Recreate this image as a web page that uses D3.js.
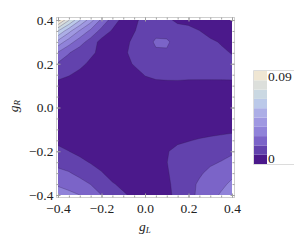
<!DOCTYPE html>
<meta charset="utf-8">
<title>Contour plot over gL, gR</title>
<style>
  body { margin: 0; background: #fff; }
  svg { display: block; font-family: "Liberation Serif", "DejaVu Serif", serif; }
  .frame { fill: none; stroke: #cfcfcf; stroke-width: 1; }
  .tick line { stroke: #a0a0a0; }
  .iso { fill: none; stroke: rgba(45, 25, 70, 0.45); stroke-width: 0.6; }
</style>
<body>
<script src="https://cdnjs.cloudflare.com/ajax/libs/d3/7.8.5/d3.min.js"></script>
<script>
// grid columns (gL) and rows (gR, top row first)
const gL = [-0.4, -0.35, -0.3, -0.25, -0.2, -0.15, -0.1, -0.05, 0, 0.05, 0.1, 0.15, 0.2, 0.25, 0.3, 0.35, 0.4];
const gR = [0.4, 0.35, 0.3, 0.25, 0.2, 0.15, 0.1, 0.05, 0, -0.05, -0.1, -0.15, -0.2, -0.25, -0.3, -0.35, -0.4];

// field values in units of 1e-3
const zMilli = [
  [94, 73, 55, 40, 25, 14, 6, 7, 12, 13, 11, 7, 5.5, 4, 4, 4, 4],
  [63, 48, 35, 25, 15, 8, 5, 8.5, 13, 16, 14, 13, 12.5, 9.2, 6, 4.5, 4],
  [42, 31, 22, 14, 6, 4, 6, 11, 15, 19, 19.5, 14, 12, 11, 10.5, 8.3, 6.5],
  [26, 18.5, 13, 10.5, 7, 4, 7, 12, 14.5, 17, 16.8, 14, 13, 12, 11.5, 10.5, 8.6],
  [17, 14, 11, 7.5, 4.5, 3.5, 5, 10, 12.5, 14, 14, 13.5, 13, 12.5, 12, 12, 11.5],
  [11.5, 9.5, 7, 5, 4, 3.5, 3.5, 5, 9.5, 11, 11.5, 11.5, 11, 11, 11, 11, 11],
  [6.3, 5.5, 5, 4.5, 4, 3.5, 3.5, 4, 5.5, 6.5, 6.6, 6.7, 6.7, 6.6, 6.6, 6.7, 6.8],
  [4.5, 4.3, 4.1, 4, 3.8, 3.6, 3.5, 3.6, 4, 4.5, 4.8, 5, 5, 5, 5, 5, 5],
  [4, 3.8, 3.6, 3.4, 3.2, 3, 3, 3, 3.2, 3.5, 3.8, 4, 4, 4, 4, 4, 4],
  [4.5, 4, 3.7, 3.4, 3.2, 3, 2.8, 2.8, 3, 3.3, 3.6, 4, 4.3, 4.6, 5, 5.3, 5.6],
  [5, 4.6, 4.2, 3.8, 3.4, 3, 2.8, 2.8, 3, 3.5, 5, 6, 6.5, 6.5, 7, 7.5, 7.4],
  [7, 6.5, 5.5, 4.5, 3.8, 3.3, 3, 3, 3.2, 3.8, 7, 8, 8.7, 9.5, 10.1, 10.5, 11.9],
  [11.2, 9.05, 6.75, 5, 4.2, 3.6, 3.2, 3.2, 3.5, 4.2, 8.6, 10.5, 11.5, 12.5, 13.5, 14.5, 16.5],
  [15.5, 13.8, 11.25, 8.4, 5.5, 4.2, 3.6, 3.5, 3.8, 4.5, 8.9, 11, 13, 14.5, 16.5, 18.4, 20.8],
  [20.3, 18.7, 15.75, 13.1, 9.7, 5.5, 4.2, 3.9, 4, 4.6, 8.4, 11.3, 14, 16.8, 20.25, 22, 25],
  [25.9, 24.2, 21, 17.8, 13.9, 9.8, 6.8, 5, 4.3, 4.8, 7.65, 11.4, 15, 19.3, 22.5, 25, 28.7],
  [31, 29, 27, 22.5, 18, 14.2, 10.2, 7, 5, 4.8, 7, 11.3, 15.5, 19.7, 23.9, 28, 32]
];

const levels = [0.009, 0.018, 0.027, 0.036, 0.045, 0.054, 0.063, 0.072, 0.081];
const zRange = [0, 0.09];
const legendTicks = [0, 0.09];
const axisTicks = [-0.4, -0.2, 0, 0.2, 0.4];
const bandColors = ['#4b198b', '#6242ad', '#7b64c8', '#9083d9', '#9f98e1', '#acaee6', '#bbc9e9', '#cad8e2', '#dcdfdb', '#efe6d3'];

const W = 300, H = 241;
const serif = '"Liberation Serif", "DejaVu Serif", serif';
const svg = d3.select('body').append('svg').attr('width', W).attr('height', H);

const x = d3.scaleLinear().domain([-0.4, 0.4]).range([58, 232]);
const y = d3.scaleLinear().domain([-0.4, 0.4]).range([195, 20]);
const frame = { left: 56, right: 234, top: 17, bottom: 197 };

// grid coordinate -> data coordinate (cell centres sit at i + 0.5)
const gx = d3.scaleLinear().domain([0.5, gL.length - 0.5]).range([gL[0], gL[gL.length - 1]]);
const gy = d3.scaleLinear().domain([0.5, gR.length - 0.5]).range([gR[0], gR[gR.length - 1]]);
const path = d3.geoPath(d3.geoTransform({
  point(px, py) { this.stream.point(x(gx(px)), y(gy(py))); }
}));

const values = zMilli.flat().map(v => v / 1000);
const contours = d3.contours().size([gL.length, gR.length]).thresholds(levels)(values);

svg.append('clipPath').attr('id', 'clip')
  .append('rect')
  .attr('x', x(-0.4)).attr('y', y(0.4))
  .attr('width', x(0.4) - x(-0.4)).attr('height', y(-0.4) - y(0.4));

const plot = svg.append('g').attr('clip-path', 'url(#clip)');

plot.append('rect')
  .attr('x', x(-0.4)).attr('y', y(0.4))
  .attr('width', x(0.4) - x(-0.4)).attr('height', y(-0.4) - y(0.4))
  .attr('fill', bandColors[0]);

plot.selectAll('path.band').data(contours).join('path')
  .attr('class', 'band')
  .attr('d', path)
  .attr('fill', (d, i) => bandColors[i + 1]);

plot.selectAll('path.iso').data(contours).join('path')
  .attr('class', 'iso')
  .attr('d', path);

// frame with inward ticks
svg.append('rect').attr('class', 'frame')
  .attr('x', frame.left + 0.5).attr('y', frame.top + 0.5)
  .attr('width', frame.right - frame.left).attr('height', frame.bottom - frame.top);

const minorTicks = d3.range(-8, 9).map(i => i / 20);
const fmt = d3.format('.1f');

function frameAxis(axisFn, scale, tx, ty, labelled) {
  const gMinor = svg.append('g').attr('transform', `translate(${tx},${ty})`)
    .call(axisFn(scale).tickValues(minorTicks).tickSize(-2).tickFormat(''));
  gMinor.select('.domain').remove();
  const gMajor = svg.append('g').attr('transform', `translate(${tx},${ty})`)
    .call(axisFn(scale).tickValues(axisTicks).tickSize(-4).tickPadding(3)
      .tickFormat(labelled ? fmt : ''))
    .attr('font-family', serif)
    .attr('font-size', 13.5);
  gMajor.select('.domain').remove();
  gMajor.selectAll('text').attr('fill', '#222');
  return gMajor;
}

frameAxis(d3.axisLeft, y, frame.left + 0.5, 0, true);
frameAxis(d3.axisRight, y, frame.right + 0.5, 0, false);
const bottomAxis = frameAxis(d3.axisBottom, x, 0, frame.bottom + 0.5, true);
bottomAxis.selectAll('text').attr('y', 6);
frameAxis(d3.axisTop, x, 0, frame.top + 0.5, false);

// axis titles
const xt = svg.append('text').attr('x', 145).attr('y', 231)
  .attr('text-anchor', 'middle').attr('font-style', 'italic').attr('font-size', 13.5).attr('fill', '#222');
xt.append('tspan').text('g');
xt.append('tspan').attr('font-size', 9).attr('dy', 2).text('L');

const yt = svg.append('text').attr('transform', 'translate(18,106) rotate(-90)')
  .attr('text-anchor', 'middle').attr('font-style', 'italic').attr('font-size', 13.5).attr('fill', '#222');
yt.append('tspan').text('g');
yt.append('tspan').attr('font-size', 9).attr('dy', 2).text('R');

// colour legend
const ly = d3.scaleLinear().domain(zRange).range([164, 71]);
const bounds = [zRange[0], ...levels, zRange[1]];
const legend = svg.append('g');
legend.append('path')
  .attr('d', `M294,70.5H253.5V164.5H294`)
  .attr('fill', 'none').attr('stroke', '#dcdcdc');
legend.selectAll('rect.key').data(bandColors).join('rect')
  .attr('class', 'key')
  .attr('x', 254).attr('width', 13)
  .attr('y', (d, i) => ly(bounds[i + 1]))
  .attr('height', (d, i) => ly(bounds[i]) - ly(bounds[i + 1]))
  .attr('fill', d => d);
legend.selectAll('text').data(legendTicks).join('text')
  .attr('x', 268)
  .attr('y', d => ly(d))
  .attr('dy', d => d === 0 ? '-0.05em' : '0.75em')
  .attr('font-size', 13.5).attr('fill', '#222')
  .text(d => d === 0 ? '0' : String(d));
</script>
</body>
